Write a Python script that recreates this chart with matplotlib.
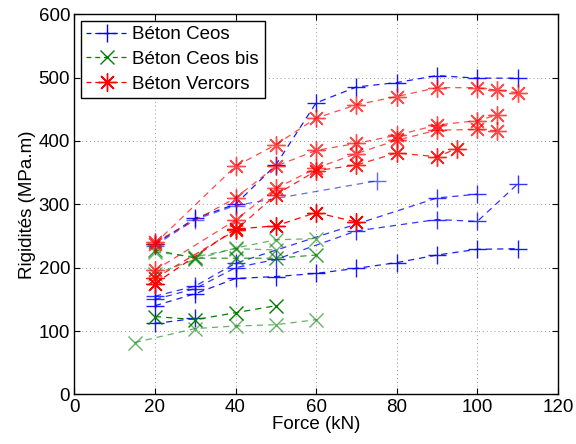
import matplotlib.pyplot as plt

plt.rcParams["font.family"] = ["Liberation Sans", "DejaVu Sans"]

# Béton Ceos (blue, "+")
ceos_x = [
    [20, 30, 40, 50, 60, 70, 80, 90, 100, 110],
    [20, 30, 40, 75],
    [20, 30, 40, 50, 60, 70, 80, 90, 100, 110],
    [20, 30, 40, 50, 70, 90, 100, 110],
    [20, 30, 40, 90, 100],
    [20, 30],
]
ceos_y = [
    [237, 278, 300, 362, 460, 485, 492, 503, 499, 499],
    [235, 276, 298, 337],
    [140, 159, 183, 186, 191, 199, 208, 220, 229, 230],
    [150, 167, 200, 213, 258, 276, 273, 332],
    [155, 171, 207, 310, 316],
    [112, 120],
]
ceos_alpha = [0.9, 0.6, 0.9, 0.8, 0.8, 0.9]

# Béton Ceos bis (green, "x")
bis_x = [
    [15, 30, 40, 50, 60],
    [20, 30, 40, 50],
    [20, 30, 40, 50, 60],
    [20, 30, 40, 50, 60],
    [20, 30, 40, 50],
]
bis_y = [
    [82, 104, 108, 110, 118],
    [123, 118, 129, 140],
    [228, 215, 215, 215, 220],
    [190, 213, 231, 244, 246],
    [225, 217, 230, 228],
]
bis_alpha = [0.6, 1.0, 0.8, 0.6, 0.6]

# Béton Vercors (red, "*")
ver_x = [
    [20, 40, 50, 60, 70, 80, 90, 100, 105, 110],
    [20, 40, 50, 60, 70, 80, 90, 100, 105],
    [20, 40, 50, 60, 70, 80, 90, 100, 105],
    [20, 40, 50, 60, 70, 80, 90, 95],
    [20, 40, 50, 60, 70],
]
ver_y = [
    [238, 360, 394, 436, 457, 470, 484, 484, 480, 476],
    [240, 310, 360, 385, 396, 409, 425, 432, 441],
    [196, 275, 325, 357, 380, 401, 417, 418, 416],
    [183, 259, 315, 353, 362, 381, 375, 388],
    [175, 261, 266, 287, 272],
]
ver_alpha = [0.7, 0.7, 0.7, 0.85, 1.0]

fig = plt.figure(figsize=(5.76, 4.44), dpi=100)
ax = fig.add_axes([0.129, 0.1115, 0.8396, 0.8567])

asterisk = (8, 2, 0)
groups = (
    ("Béton Ceos", "#0000ff", "+", 13, ceos_x, ceos_y, ceos_alpha),
    ("Béton Ceos bis", "#008000", "x", 10, bis_x, bis_y, bis_alpha),
    ("Béton Vercors", "#ff0000", asterisk, 13, ver_x, ver_y, ver_alpha),
)
handles = []
for label, color, marker, ms, xs, ys, alphas in groups:
    for i, (x, y, a) in enumerate(zip(xs, ys, alphas)):
        ax.plot(x, y, linestyle="--", color=color, marker=marker,
                markersize=ms, linewidth=0.9, markeredgewidth=1.0,
                alpha=a, dashes=(5, 4))
        if i == 0:
            handles.append(plt.Line2D([], [], linestyle="--", color=color,
                                      marker=marker, markersize=ms,
                                      linewidth=0.9, dashes=(4, 3), label=label))

ax.set_xlim(0, 120)
ax.set_ylim(0, 600)
ax.set_xticks(range(0, 121, 20))
ax.set_yticks(range(0, 601, 100))
ax.grid(True, linestyle=(0, (1, 3)), color="#999999", linewidth=0.7)
ax.tick_params(direction="in", top=True, right=True, labelsize=13.5, length=4, pad=3)
for s in ax.spines.values():
    s.set_linewidth(1.0)
ax.set_xlabel("Force (kN)", fontsize=13.5, labelpad=0)
ax.set_ylabel("Rigidités (MPa.m)", fontsize=13.5, labelpad=2)

leg = ax.legend(handles=handles, loc="upper left", fontsize=13.5, fancybox=False,
                framealpha=1, edgecolor="black", handlelength=2.2,
                borderaxespad=0.35, borderpad=0.3, labelspacing=0.4,
                handletextpad=0.25)
leg.get_frame().set_linewidth(1.0)

fig.savefig("out.png", dpi=100)
